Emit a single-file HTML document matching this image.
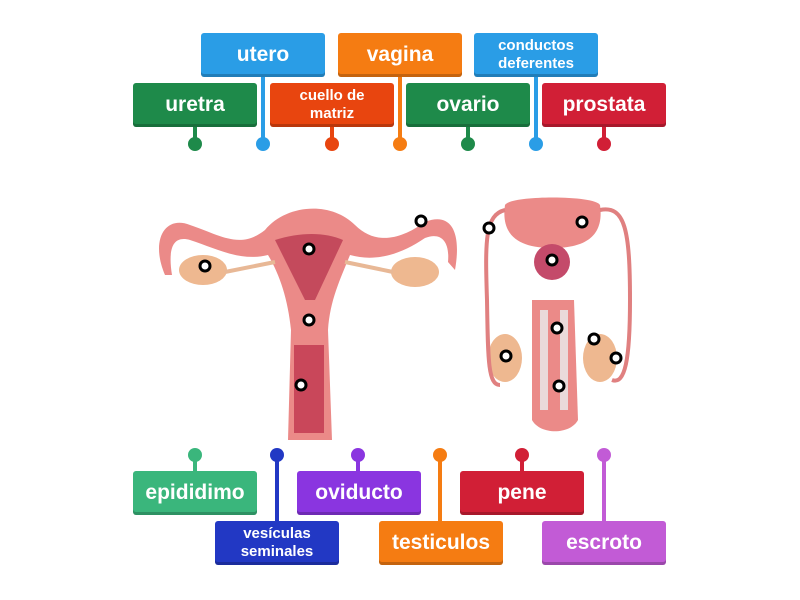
<!DOCTYPE html>
<html><head><style>
body{margin:0;width:800px;height:600px;background:#fff;position:relative;overflow:hidden;font-family:"Liberation Sans","DejaVu Sans",sans-serif}
.b{position:absolute;width:124px;height:44px;border-radius:3px;color:#fff;font-weight:bold;display:flex;align-items:center;justify-content:center;text-align:center;font-size:21px;box-shadow:inset 0 -3px 0 rgba(0,0,0,.2)}
.s{font-size:15px;line-height:18px}
</style></head><body>
<svg width="800" height="600" style="position:absolute;left:0;top:0">
<g stroke-width="4">
<line x1="263" y1="75" x2="263" y2="144" stroke="#2a9de6"/>
<line x1="400" y1="75" x2="400" y2="144" stroke="#f57c12"/>
<line x1="536" y1="75" x2="536" y2="144" stroke="#2a9de6"/>
<line x1="195" y1="125" x2="195" y2="144" stroke="#1e8a4a"/>
<line x1="332" y1="125" x2="332" y2="144" stroke="#e8450f"/>
<line x1="468" y1="125" x2="468" y2="144" stroke="#1e8a4a"/>
<line x1="604" y1="125" x2="604" y2="144" stroke="#d11f36"/>
<line x1="195" y1="455" x2="195" y2="473" stroke="#3ab67c"/>
<line x1="358" y1="455" x2="358" y2="473" stroke="#8a35e0"/>
<line x1="522" y1="455" x2="522" y2="473" stroke="#d11f36"/>
<line x1="277" y1="455" x2="277" y2="523" stroke="#2238c4"/>
<line x1="440" y1="455" x2="440" y2="523" stroke="#f57c12"/>
<line x1="604" y1="455" x2="604" y2="523" stroke="#c25bd6"/>
</g>
<circle cx="195" cy="144" r="7" fill="#1e8a4a"/><circle cx="263" cy="144" r="7" fill="#2a9de6"/>
<circle cx="332" cy="144" r="7" fill="#e8450f"/><circle cx="400" cy="144" r="7" fill="#f57c12"/>
<circle cx="468" cy="144" r="7" fill="#1e8a4a"/><circle cx="536" cy="144" r="7" fill="#2a9de6"/>
<circle cx="604" cy="144" r="7" fill="#d11f36"/>
<circle cx="195" cy="455" r="7" fill="#3ab67c"/><circle cx="277" cy="455" r="7" fill="#2238c4"/>
<circle cx="358" cy="455" r="7" fill="#8a35e0"/><circle cx="440" cy="455" r="7" fill="#f57c12"/>
<circle cx="522" cy="455" r="7" fill="#d11f36"/><circle cx="604" cy="455" r="7" fill="#c25bd6"/>
<!-- female -->
<path d="M165,275 C150,240 165,215 190,225 C220,235 240,250 265,230 C285,205 330,200 355,225 C375,245 400,240 425,222 C450,212 462,230 455,270 L448,262 C450,240 440,232 425,238 C400,255 375,262 350,255 C340,280 330,300 328,330 L332,440 L288,440 L291,330 C288,300 280,275 268,255 C240,262 215,248 190,240 C172,235 168,250 172,275 Z" fill="#eb8a88"/>
<path d="M275,240 C300,232 325,232 343,240 L315,300 L305,300 Z" fill="#c44a5c"/>
<rect x="294" y="345" width="30" height="88" fill="#c9475a"/>
<ellipse cx="203" cy="270" rx="24" ry="15" fill="#eeb890"/>
<ellipse cx="415" cy="272" rx="24" ry="15" fill="#eeb890"/>
<path d="M225,272 L275,262 M393,272 L345,262" stroke="#e8b896" stroke-width="4"/>
<!-- male -->
<path d="M505,205 C510,195 595,195 600,205 C605,240 580,248 552,248 C525,248 500,240 505,205 Z" fill="#eb8a88"/>
<circle cx="552" cy="262" r="18" fill="#c44a6a"/>
<path d="M532,300 L574,300 L578,420 C570,435 540,435 532,420 Z" fill="#eb8a88"/>
<path d="M540,310 L548,310 L548,410 L540,410 Z M560,310 L568,310 L568,410 L560,410 Z" fill="#eadada"/>
<ellipse cx="505" cy="358" rx="17" ry="24" fill="#eeb890"/>
<ellipse cx="600" cy="358" rx="17" ry="24" fill="#eeb890"/>
<path d="M505,210 C485,215 485,240 487,300 C488,360 488,385 500,385 M600,210 C625,205 630,230 630,300 C630,360 625,385 612,380" stroke="#e08080" stroke-width="4" fill="none"/>
<g fill="#fff" stroke="#000" stroke-width="3">
<circle cx="205" cy="266" r="5"/><circle cx="309" cy="249" r="5"/><circle cx="421" cy="221" r="5"/>
<circle cx="309" cy="320" r="5"/><circle cx="301" cy="385" r="5"/><circle cx="489" cy="228" r="5"/>
<circle cx="582" cy="222" r="5"/><circle cx="552" cy="260" r="5"/><circle cx="557" cy="328" r="5"/>
<circle cx="594" cy="339" r="5"/><circle cx="616" cy="358" r="5"/><circle cx="506" cy="356" r="5"/>
<circle cx="559" cy="386" r="5"/>
</g>
</svg>
<div class="b" style="left:201px;top:33px;background:#2a9de6">utero</div>
<div class="b" style="left:338px;top:33px;background:#f57c12">vagina</div>
<div class="b s" style="left:474px;top:33px;background:#2a9de6">conductos<br>deferentes</div>
<div class="b" style="left:133px;top:83px;background:#1e8a4a">uretra</div>
<div class="b s" style="left:270px;top:83px;background:#e8450f">cuello de<br>matriz</div>
<div class="b" style="left:406px;top:83px;background:#1e8a4a">ovario</div>
<div class="b" style="left:542px;top:83px;background:#d11f36">prostata</div>
<div class="b" style="left:133px;top:471px;background:#3ab67c">epididimo</div>
<div class="b" style="left:297px;top:471px;background:#8a35e0">oviducto</div>
<div class="b" style="left:460px;top:471px;background:#d11f36">pene</div>
<div class="b s" style="left:215px;top:521px;background:#2238c4">vesículas<br>seminales</div>
<div class="b" style="left:379px;top:521px;background:#f57c12">testiculos</div>
<div class="b" style="left:542px;top:521px;background:#c25bd6">escroto</div>
</body></html>
